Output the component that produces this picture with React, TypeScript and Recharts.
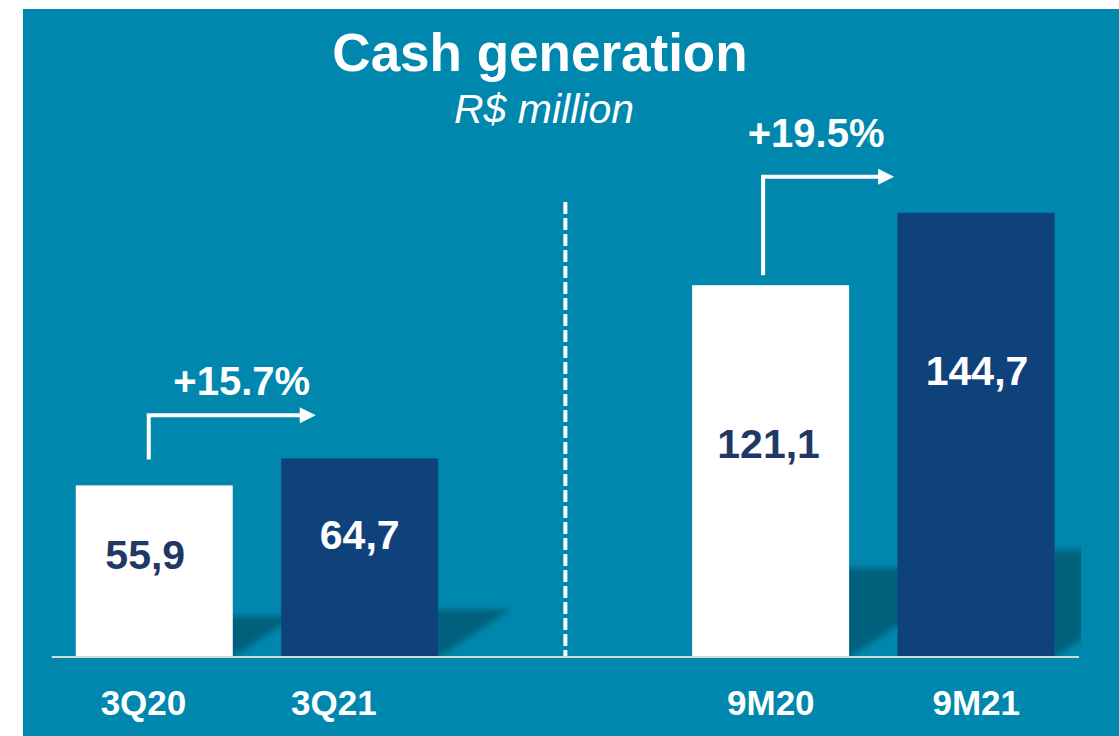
import React from 'react';
import { BarChart, Bar, XAxis, YAxis, ReferenceLine } from 'recharts';

// ---- data ----
const categories = ['3Q20', '3Q21', '-', '9M20', '9M21'];
const cashGeneration: (number | null)[] = [55.9, 64.7, null, 121.1, 144.7];
const tickLabels = ['3Q20', '3Q21', '', '9M20', '9M21'];
const growthLabels = ['+15.7%', '+19.5%'];
const dividerTop = 148.2;

const data = categories.map((name, i) => ({ name, value: cashGeneration[i] }));

// ---- layout / style ----
const W = 1096;
const H = 727;
const OX = 23;
const OY = 9;
const M = { top: 34, right: 40, bottom: 0, left: 28.75 };
const PLOT_W = W - M.left - M.right;
const BAND = PLOT_W / categories.length;
const BG = '#0087AD';
const NAVY = '#0F427B';
const WHITE = '#FFFFFF';
const LABEL_DARK = '#1F3864';
const SHADOW = '#00617C';
const FONT = '"Liberation Sans", Arial, Helvetica, sans-serif';
const barFills = [WHITE, NAVY, 'none', WHITE, NAVY];
const TICK_DX = [-11, -26, 0, 0, 0];
const LABEL_DX = [-9, 0, 0, -2, 1];

const ARROWS = [
  { dark: 1, white: 0, vxOff: 73, gapBelow: 26, aboveDark: 43, len: 167, textDx: 93, textRise: 20 },
  { dark: 4, white: 3, vxOff: 71, gapBelow: 10, aboveDark: 36, len: 131, textDx: 53, textRise: 30 },
];

const fmt = (v: number) => v.toFixed(1).replace('.', ',');

const BarShape = (props: any) => {
  const { x, y, width, height } = props;
  let idx = categories.indexOf(props.payload?.name ?? props.name);
  if (idx < 0) idx = props.index ?? 0;
  const value = cashGeneration[idx];
  if (value == null || !(height > 0)) return null;
  const fill = barFills[idx];
  const xr = x + width;
  const base = y + height;
  const sh = 0.24 * height;
  const dx = sh / 0.65;
  const clipRight = M.left + PLOT_W + 2;
  const clipId = `shclip-${idx}`;
  const isWhite = fill === WHITE;
  const labelCy = isWhite ? y + 0.445 * height - 7 : y + 0.33 * height + 11;

  const ai = ARROWS.findIndex((a) => a.dark === idx);
  let arrowEl: React.ReactNode = null;
  if (ai >= 0) {
    const a = ARROWS[ai];
    const whiteVal = cashGeneration[a.white] as number;
    const k = height / value;
    const whiteTop = base - whiteVal * k;
    const whiteX = x - BAND * (idx - a.white);
    const vx = whiteX + a.vxOff;
    const vb = whiteTop - a.gapBelow;
    const hy = y - a.aboveDark;
    const tip = vx + a.len;
    arrowEl = (
      <g>
        <path
          d={`M${vx},${vb} L${vx},${hy} L${tip - 14},${hy}`}
          stroke="#FFFFFF"
          strokeWidth={4}
          fill="none"
          strokeLinejoin="miter"
        />
        <polygon points={`${tip - 16},${hy - 8} ${tip},${hy} ${tip - 16},${hy + 8}`} fill="#FFFFFF" />
        <text
          x={vx + a.textDx}
          y={hy - a.textRise}
          textAnchor="middle"
          fill="#FFFFFF"
          fontFamily={FONT}
          fontWeight="bold"
          fontSize={40}
        >
          {growthLabels[ai]}
        </text>
      </g>
    );
  }

  return (
    <g>
      <defs>
        <clipPath id={clipId}>
          <rect x={xr} y={base - sh - 30} width={Math.max(0, clipRight - xr)} height={sh + 30} />
        </clipPath>
      </defs>
      <g clipPath={`url(#${clipId})`}>
        <polygon
          points={`${xr - 10},${base + 6.5} ${xr - 10},${base - sh} ${xr + dx},${base - sh}`}
          fill={SHADOW}
          filter="url(#shadowBlur)"
        />
      </g>
      <rect x={x} y={y} width={width} height={height} fill={fill} />
      <text
        x={x + width / 2 + LABEL_DX[idx]}
        y={labelCy + 14.5}
        textAnchor="middle"
        fill={isWhite ? LABEL_DARK : '#FFFFFF'}
        fontFamily={FONT}
        fontWeight="bold"
        fontSize={41}
      >
        {fmt(value)}
      </text>
      {arrowEl}
    </g>
  );
};

const Tick = (props: any) => {
  const { x, y, payload } = props;
  const i = categories.indexOf(payload?.value);
  const label = tickLabels[i];
  if (!label) return null;
  return (
    <text
      x={x + TICK_DX[i]}
      y={y + 58}
      textAnchor="middle"
      fill="#FFFFFF"
      fontFamily={FONT}
      fontWeight="bold"
      fontSize={35}
    >
      {label}
    </text>
  );
};

export default function App() {
  return (
    <div style={{ position: 'absolute', left: 0, top: 0, width: 1119, height: 736, background: '#FFFFFF', overflow: 'hidden' }}>
      <svg width={0} height={0} style={{ position: 'absolute' }}>
        <defs>
          <filter id="shadowBlur" x="-50%" y="-50%" width="200%" height="200%">
            <feGaussianBlur stdDeviation="3" />
          </filter>
        </defs>
      </svg>
      <div style={{ position: 'absolute', left: OX, top: OY, width: W, height: H, background: BG }}>
        <BarChart width={W} height={H} data={data} margin={M}>
          <XAxis
            dataKey="name"
            height={79}
            interval={0}
            tickLine={false}
            tickSize={0}
            tickMargin={0}
            axisLine={{ stroke: '#D8D8D8', strokeWidth: 2 }}
            tick={<Tick />}
          />
          <YAxis hide domain={[0, 200]} />
          <ReferenceLine
            segment={[
              { x: '-', y: dividerTop },
              { x: '-', y: 0 },
            ]}
            stroke="#FFFFFF"
            strokeWidth={4}
            strokeDasharray="12 4"
          />
          <Bar dataKey="value" barSize={157} isAnimationActive={false} shape={<BarShape />} />
        </BarChart>
      </div>
      <svg
        width={1119}
        height={736}
        style={{ position: 'absolute', left: 0, top: 0, pointerEvents: 'none' }}
      >
        <text x={540} y={71} textAnchor="middle" fill="#FFFFFF" fontFamily={FONT} fontWeight="bold" fontSize={53}>
          Cash generation
        </text>
        <text x={544} y={123} textAnchor="middle" fill="#FFFFFF" fontFamily={FONT} fontStyle="italic" fontSize={41}>
          R$ million
        </text>
      </svg>
    </div>
  );
}
